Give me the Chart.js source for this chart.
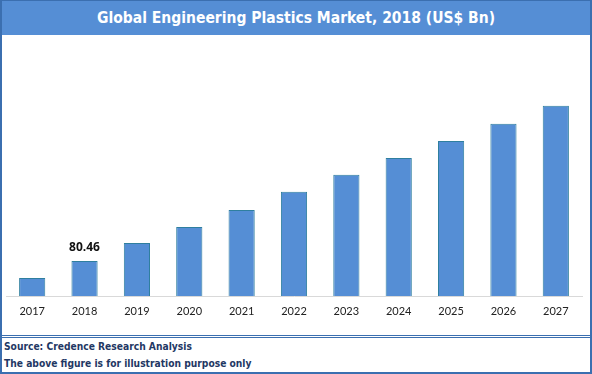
<!DOCTYPE html>
<html>
<head>
<meta charset="utf-8">
<script src="https://cdn.jsdelivr.net/npm/chart.js@4.4.0/dist/chart.umd.min.js"></script>
<style>
  html, body { margin: 0; padding: 0; background: #fff; }
  #frame { position: relative; width: 592px; height: 374px; box-sizing: border-box;
           border-left: 2px solid #3b6fb0; border-right: 2px solid #3b6fb0; border-bottom: 2px solid #3b6fb0; overflow: hidden; }
  #title { position: absolute; left: -2px; top: 0; width: 592px; height: 35px; background: #558ed5;
           border-top: 1px solid #3b6fb0; box-sizing: border-box;
           color: #fff; font: bold 15.5px "DejaVu Sans Condensed", "DejaVu Sans", sans-serif;
           text-align: center; line-height: 34px; }
  #chartWrap { position: absolute; left: 0; top: 36px; width: 588px; height: 298px; }
  #footer { position: absolute; left: 0; top: 335px; width: 588px; height: 37px; border-top: 3px double #3b6fb0;
            box-sizing: border-box; color: #1f3864; font: bold 10.2px "DejaVu Sans Condensed", "DejaVu Sans", sans-serif; }
  #footer div { position: absolute; left: 2px; white-space: nowrap; }
</style>
</head>
<body>
<div id="frame">
  <div id="title">Global Engineering Plastics Market, 2018 (US$ Bn)</div>
  <div id="chartWrap"><canvas id="c" width="588" height="298"></canvas></div>
  <div id="footer">
    <div style="top:3px">Source: Credence Research Analysis</div>
    <div style="top:20px">The above figure is for illustration purpose only</div>
  </div>
</div>
<script>
const categories = ["2017","2018","2019","2020","2021","2022","2023","2024","2025","2026","2027"];
const marketValues = [75.4, 80.46, 85.8, 90.6, 95.7, 101.1, 106.2, 111.2, 116.3, 121.4, 126.8];
const labeledIndex = 1;
const labelText = "80.46";

const labelPlugin = {
  id: 'singleLabel',
  afterDatasetsDraw(chart) {
    const meta = chart.getDatasetMeta(0);
    const el = meta.data[labeledIndex];
    const ctx = chart.ctx;
    ctx.save();
    ctx.font = 'bold 12px "Open Sans", "DejaVu Sans", sans-serif';
    ctx.fillStyle = '#111';
    ctx.textAlign = 'center';
    ctx.textBaseline = 'middle';
    ctx.fillText(labelText, el.x, el.y - 13);
    ctx.restore();
  }
};

new Chart(document.getElementById('c'), {
  type: 'bar',
  data: {
    labels: categories,
    datasets: [{
      data: marketValues,
      backgroundColor: '#558ed5',
      borderColor: '#2f7f9f',
      borderWidth: 1,
      barPercentage: 0.5,
      categoryPercentage: 1.0
    }]
  },
  options: {
    responsive: false,
    devicePixelRatio: 1,
    animation: false,
    layout: { padding: { left: 4, right: 8, top: 59, bottom: 0 } },
    plugins: { legend: { display: false }, tooltip: { enabled: false }, title: { display: false } },
    scales: {
      x: {
        grid: { display: false, drawTicks: false },
        border: { display: true, color: '#d9d9d9', width: 1 },
        ticks: { color: '#222', font: { family: 'Lato, "Open Sans", sans-serif', size: 11 }, padding: 9, maxRotation: 0 },
        afterFit(scale) { scale.height = 38; }
      },
      y: {
        display: false,
        min: 70,
        max: 130
      }
    }
  },
  plugins: [labelPlugin]
});
</script>
</body>
</html>
